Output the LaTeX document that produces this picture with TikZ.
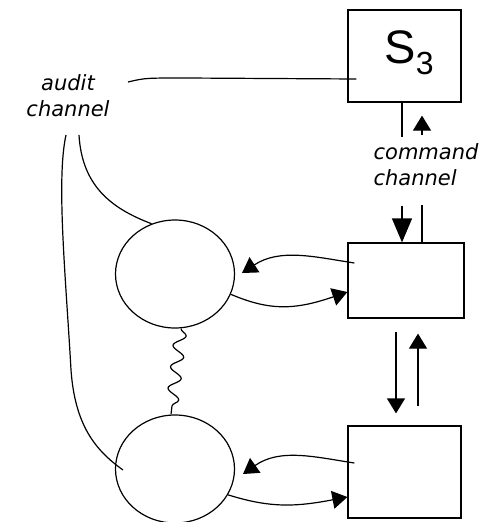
\documentclass[tikz,border=0pt]{standalone}
\usepackage{fontspec}
\setmainfont{DejaVu Sans}
\newfontfamily\labelsans{Liberation Sans}
\usetikzlibrary{arrows.meta,shapes.geometric,decorations.pathmorphing,calc}

\begin{document}
\begin{tikzpicture}[x=1pt,y=-1pt,line width=1.2pt,
  box/.style={draw,rectangle,inner sep=0pt},
  unit/.style={draw,ellipse,minimum width=119pt,minimum height=108pt,inner sep=0pt},
  chan/.style={font=\fontsize{21}{26}\selectfont\itshape,inner sep=0pt},
  head/.style={-{Triangle[length=15pt,width=18pt]}},
  bighead/.style={-{Triangle[length=24pt,width=20pt]}},
  spring/.style={decorate,decoration={snake,segment length=21.5pt,amplitude=6pt}}]
\useasboundingbox (0,0) rectangle (479,522);

% boxes on the right
\node[box,minimum width=113pt,minimum height=92pt] (s3) at (404.5,56) {};
\node[anchor=base west,inner sep=0pt] (s3txt) at (384,63)
  {\labelsans\fontsize{47}{47}\selectfont S\raisebox{-11pt}{\fontsize{32}{32}\selectfont 3}};
\node[box,minimum width=116pt,minimum height=75pt] (mid) at (406,280.5) {};
\node[box,minimum width=113pt,minimum height=92pt] (low) at (404.5,472) {};

% operational units on the left
\node[unit] (up) at (175,274) {};
\node[unit] (down) at (175,469) {};

% channel labels
\node[chan,align=center] (audit) at (68,96) {audit\\channel};
\node[chan,align=left,anchor=west] (command) at (373,164.5) {command\\channel};

% audit channel
\coordinate (auditA) at (128,82);
\coordinate (auditB) at (79,135);
\coordinate (auditC) at (66,135);
\coordinate (auditD) at (123,470);
\draw (auditA) .. controls (145,78) .. (185,78) -- ($(s3.west)+(9,23)$);
\draw (auditB) .. controls (82,185) and (110,208) .. (up.115);
\draw (auditC) .. controls (56,180) and (66,280) .. (71,370)
  .. controls (75,425) and (95,450) .. (auditD);

% command channel
\draw ([xshift=-2.5pt]s3.south) -- ++(0,34);
\draw[head,shorten <=107pt,shorten >=13pt] ([xshift=17.5pt]s3.south |- mid.north) -- ([xshift=17.5pt]s3.south);
\draw[bighead,shorten <=103pt] ([xshift=-2.5pt]s3.south) -- ([xshift=-2.5pt]s3.south |- mid.north);
\draw ([xshift=17.5pt]s3.south |- 0,205) -- ([xshift=17.5pt]s3.south |- mid.north);

% links between the two lower boxes
\draw[head,shorten <=13pt,shorten >=12pt] ([xshift=-10pt]mid.south) -- ([xshift=-8.5pt]low.north);
\draw[head,shorten <=19pt,shorten >=15pt] ([xshift=13.5pt]low.north) -- ([xshift=12pt]mid.south);

% links between units and boxes
\coordinate (tipU) at (242,273);
\coordinate (tipL) at (243,474);
\draw[head] ($(mid.west)+(7,-17.5)$) .. controls (315,257) and (280,248) .. (tipU);
\draw[head] (up.-20) .. controls (270,311) and (295,310) .. ($(mid.west)+(0,11.5)$);
\draw[head] ($(low.west)+(7,-9)$) .. controls (315,457) and (280,448) .. (tipL);
\draw[head] (down.-26) .. controls (270,508) and (295,507) .. ($(low.west)+(0,25)$);

% coupling between the units
\draw[spring] ([xshift=6pt]up.south) -- ([xshift=-4pt]down.north);
\end{tikzpicture}
\end{document}
